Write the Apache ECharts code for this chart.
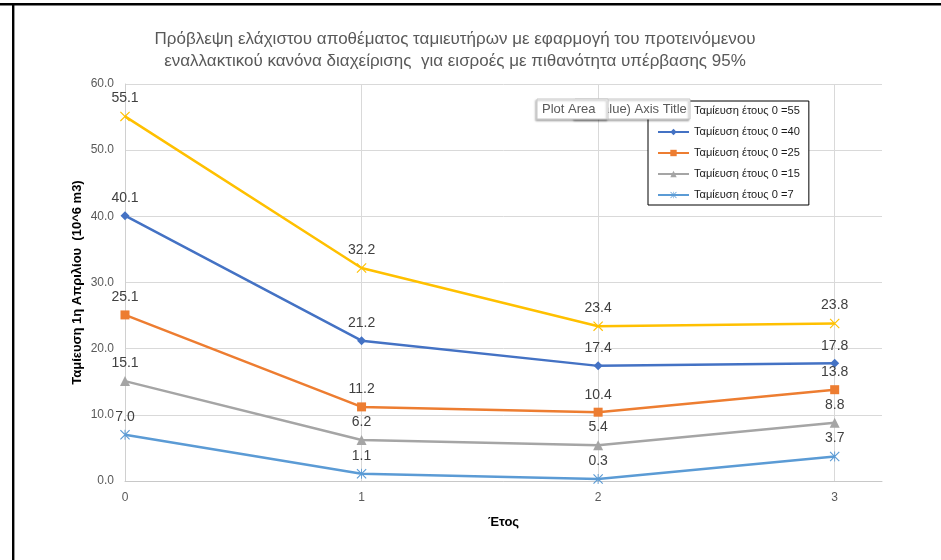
<!DOCTYPE html>
<html>
<head>
<meta charset="utf-8">
<style>
  html, body { margin: 0; padding: 0; background: #fff; }
  #chart { width: 941px; height: 560px; }
</style>
<script src="https://cdn.jsdelivr.net/npm/echarts@6/dist/echarts.min.js"></script>
</head>
<body>
<div id="chart"></div>
<script>
// Years after the start of the operating period
const years = [0, 1, 2, 3];
const yTicks = [0, 10, 20, 30, 40, 50, 60];

// Minimum storage (10^6 m3) on 1 April, per initial storage scenario
const storage55 = [55.1, 32.2, 23.4, 23.8];
const storage40 = [40.1, 21.2, 17.4, 17.8];
const storage25 = [25.1, 11.2, 10.4, 13.8];
const storage15 = [15.1, 6.2, 5.4, 8.8];
const storage7  = [7.0, 1.1, 0.3, 3.7];

const seriesNames = [
  'Ταμίευση έτους 0 =55',
  'Ταμίευση έτους 0 =40',
  'Ταμίευση έτους 0 =25',
  'Ταμίευση έτους 0 =15',
  'Ταμίευση έτους 0 =7'
];

const FONT = 'Liberation Sans, Arial, sans-serif';

// Filled outlines so the marker shapes also render in the legend
const crossPath = 'path://M0.8,0L10,9.2L9.2,10L0,0.8ZM9.2,0L10,0.8L0.8,10L0,9.2Z';
const starPath = 'path://M0.8,0L10,9.2L9.2,10L0,0.8ZM9.2,0L10,0.8L0.8,10L0,9.2ZM4.55,0L5.45,0L5.45,10L4.55,10Z';

const styles = [
  { color: '#FFC000', symbol: crossPath, size: 10 },
  { color: '#4472C4', symbol: 'diamond', size: 9 },
  { color: '#ED7D31', symbol: 'rect', size: 9 },
  { color: '#A5A5A5', symbol: 'triangle', size: 10 },
  { color: '#5B9BD5', symbol: starPath, size: 10 }
];
const values = [storage55, storage40, storage25, storage15, storage7];

const series = values.map((vals, i) => ({
  name: seriesNames[i],
  type: 'line',
  data: years.map((x, j) => [x, vals[j]]),
  symbol: styles[i].symbol,
  symbolSize: styles[i].size,
  showAllSymbol: true,
  lineStyle: { color: styles[i].color, width: 2.5 },
  itemStyle: { color: styles[i].color },
  label: {
    show: true,
    position: 'top',
    distance: 6,
    color: '#404040',
    fontSize: 14,
    fontFamily: FONT,
    formatter: p => p.value[1].toFixed(1)
  },
  emphasis: { disabled: true },
  animation: false
}));

const hintBox = { fill: '#fff', stroke: '#c8c8c8', lineWidth: 1, shadowBlur: 2, shadowOffsetX: -1.5, shadowOffsetY: 1.5, shadowColor: 'rgba(0,0,0,0.25)' };

const chart = echarts.init(document.getElementById('chart'), null, { renderer: 'canvas' });

chart.setOption({
  backgroundColor: '#ffffff',
  animation: false,
  title: {
    text: 'Πρόβλεψη ελάχιστου αποθέματος ταμιευτήρων με εφαρμογή του προτεινόμενου\nεναλλακτικού κανόνα διαχείρισης  για εισροές με πιθανότητα υπέρβασης 95%',
    left: 450,
    top: 23,
    textAlign: 'center',
    textStyle: {
      color: '#595959',
      fontSize: 17,
      fontWeight: 'normal',
      fontFamily: FONT,
      lineHeight: 22
    }
  },
  legend: {
    data: seriesNames,
    orient: 'vertical',
    left: 648,
    top: 101,
    z: 4,
    padding: [3, 9, 3, 9],
    backgroundColor: '#ffffff',
    borderColor: '#000000',
    borderWidth: 1,
    itemWidth: 31,
    itemHeight: 8,
    itemGap: 7,
    selectedMode: false,
    textStyle: { color: '#1a1a1a', fontSize: 11.1, fontFamily: FONT, lineHeight: 14 }
  },
  grid: { left: 125, right: 59, top: 84, bottom: 79, containLabel: false },
  xAxis: {
    type: 'value',
    min: 0,
    max: 3.2,
    interval: 1,
    name: 'Έτος',
    nameLocation: 'middle',
    nameGap: 35,
    nameTextStyle: { color: '#000', fontWeight: 'bold', fontSize: 13, fontFamily: FONT },
    axisLine: { show: true, lineStyle: { color: '#c8c8c8', width: 1 } },
    axisTick: { show: false },
    axisLabel: {
      color: '#595959', fontSize: 12, fontFamily: FONT, margin: 11,
      showMaxLabel: false,
      formatter: v => (Number.isInteger(v) && years.includes(v)) ? String(v) : ''
    },
    splitLine: { show: true, showMaxLine: false, showMinLine: false, lineStyle: { color: '#d9d9d9', width: 1 } }
  },
  yAxis: {
    type: 'value',
    min: yTicks[0],
    max: yTicks[yTicks.length - 1],
    interval: 10,
    name: 'Ταμίευση 1η Απριλίου  (10^6 m3)',
    nameLocation: 'middle',
    nameGap: 41,
    nameMoveOverlap: false,
    nameTextStyle: { color: '#000', fontWeight: 'bold', fontSize: 13, fontFamily: FONT },
    axisLine: { show: true, lineStyle: { color: '#d0d0d0', width: 1 } },
    axisTick: { show: false },
    axisLabel: { color: '#595959', fontSize: 12, fontFamily: FONT, margin: 11, formatter: v => v.toFixed(1) },
    splitLine: { show: true, lineStyle: { color: '#d9d9d9', width: 1 } }
  },
  graphic: [
    // frame lines along the top and left edges
    { type: 'rect', z: 200, shape: { x: 0, y: 3, width: 941, height: 2.4 }, style: { fill: '#000' } },
    { type: 'rect', z: 200, shape: { x: 12, y: 3, width: 2.4, height: 560 }, style: { fill: '#000' } },
    // hover hints over the plot area
    { type: 'rect', z: 150, shape: { x: 575, y: 99, width: 115, height: 20 }, style: hintBox },
    { type: 'text', z: 151, x: 590, y: 109, style: { text: '(Value) Axis Title', fill: '#595959', font: '13px ' + FONT, verticalAlign: 'middle' } },
    { type: 'rect', z: 160, shape: { x: 537, y: 99, width: 71, height: 20 }, style: hintBox },
    { type: 'text', z: 161, x: 542, y: 109, style: { text: 'Plot Area', fill: '#595959', font: '13px ' + FONT, verticalAlign: 'middle' } }
  ],
  series: series
});
</script>
</body>
</html>
